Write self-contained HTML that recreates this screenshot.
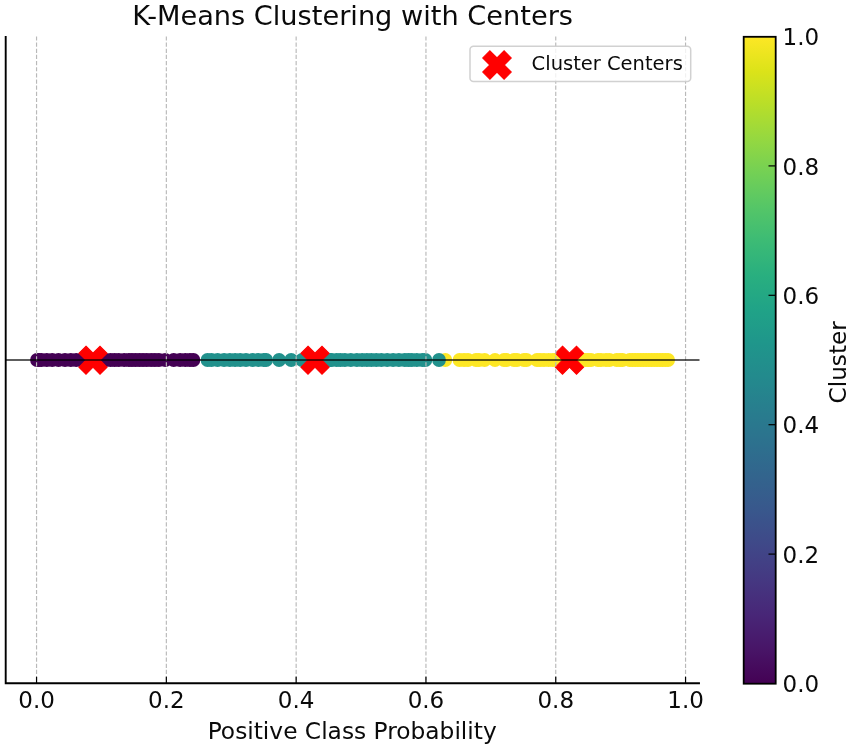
<!DOCTYPE html>
<html><head><meta charset="utf-8"><title>K-Means Clustering with Centers</title>
<style>
html,body{margin:0;padding:0;background:#fff;}
svg{display:block;}
text{font-family:"DejaVu Sans","Liberation Sans",sans-serif;fill:#0a0a0a;}
</style></head><body>
<svg width="851" height="749" viewBox="0 0 851 749">
<defs><linearGradient id="vir" x1="0" y1="1" x2="0" y2="0">
<stop offset="0.0000" stop-color="#440154"/>
<stop offset="0.0526" stop-color="#481567"/>
<stop offset="0.1053" stop-color="#482677"/>
<stop offset="0.1579" stop-color="#453781"/>
<stop offset="0.2105" stop-color="#404788"/>
<stop offset="0.2632" stop-color="#39568c"/>
<stop offset="0.3158" stop-color="#33638d"/>
<stop offset="0.3684" stop-color="#2d708e"/>
<stop offset="0.4211" stop-color="#287d8e"/>
<stop offset="0.4737" stop-color="#238a8d"/>
<stop offset="0.5263" stop-color="#1f968b"/>
<stop offset="0.5789" stop-color="#20a387"/>
<stop offset="0.6316" stop-color="#29af7f"/>
<stop offset="0.6842" stop-color="#3cbb75"/>
<stop offset="0.7368" stop-color="#55c667"/>
<stop offset="0.7895" stop-color="#73d055"/>
<stop offset="0.8421" stop-color="#95d840"/>
<stop offset="0.8947" stop-color="#b8de29"/>
<stop offset="0.9474" stop-color="#dce319"/>
<stop offset="1.0000" stop-color="#fde725"/>
</linearGradient></defs>
<rect width="851" height="749" fill="#ffffff"/>
<g fill="#440154"><circle cx="37.0" cy="360.0" r="6.9"/><circle cx="39.0" cy="360.0" r="6.9"/><circle cx="41.5" cy="360.0" r="6.9"/><circle cx="46.8" cy="360.0" r="6.9"/><circle cx="52.2" cy="360.0" r="6.9"/><circle cx="58.5" cy="360.0" r="6.9"/><circle cx="65.0" cy="360.0" r="6.9"/><circle cx="70.8" cy="360.0" r="6.9"/><circle cx="76.2" cy="360.0" r="6.9"/><circle cx="81.5" cy="360.0" r="6.9"/><circle cx="83.9" cy="360.0" r="6.9"/><circle cx="86.3" cy="360.0" r="6.9"/><circle cx="88.7" cy="360.0" r="6.9"/><circle cx="91.1" cy="360.0" r="6.9"/><circle cx="93.5" cy="360.0" r="6.9"/><circle cx="95.9" cy="360.0" r="6.9"/><circle cx="98.3" cy="360.0" r="6.9"/><circle cx="100.7" cy="360.0" r="6.9"/><circle cx="103.1" cy="360.0" r="6.9"/><circle cx="105.5" cy="360.0" r="6.9"/><circle cx="110.5" cy="360.0" r="6.9"/><circle cx="114.6" cy="360.0" r="6.9"/><circle cx="118.8" cy="360.0" r="6.9"/><circle cx="124.2" cy="360.0" r="6.9"/><circle cx="128.8" cy="360.0" r="6.9"/><circle cx="132.0" cy="360.0" r="6.9"/><circle cx="135.6" cy="360.0" r="6.9"/><circle cx="139.4" cy="360.0" r="6.9"/><circle cx="143.0" cy="360.0" r="6.9"/><circle cx="146.8" cy="360.0" r="6.9"/><circle cx="151.1" cy="360.0" r="6.9"/><circle cx="154.9" cy="360.0" r="6.9"/><circle cx="158.9" cy="360.0" r="6.9"/><circle cx="165.3" cy="360.0" r="6.9"/><circle cx="173.7" cy="360.0" r="6.9"/><circle cx="180.1" cy="360.0" r="6.9"/><circle cx="185.3" cy="360.0" r="6.9"/><circle cx="189.9" cy="360.0" r="6.9"/><circle cx="193.4" cy="360.0" r="6.9"/></g>
<g fill="#fde725"><circle cx="445.3" cy="360.0" r="6.9"/><circle cx="459.5" cy="360.0" r="6.9"/><circle cx="464.0" cy="360.0" r="6.9"/><circle cx="468.0" cy="360.0" r="6.9"/><circle cx="476.0" cy="360.0" r="6.9"/><circle cx="479.0" cy="360.0" r="6.9"/><circle cx="484.6" cy="360.0" r="6.9"/><circle cx="495.0" cy="360.0" r="6.9"/><circle cx="504.0" cy="360.0" r="6.9"/><circle cx="506.5" cy="360.0" r="6.9"/><circle cx="514.0" cy="360.0" r="6.9"/><circle cx="517.0" cy="360.0" r="6.9"/><circle cx="524.0" cy="360.0" r="6.9"/><circle cx="526.5" cy="360.0" r="6.9"/><circle cx="537.0" cy="360.0" r="6.9"/><circle cx="540.0" cy="360.0" r="6.9"/><circle cx="544.0" cy="360.0" r="6.9"/><circle cx="548.6" cy="360.0" r="6.9"/><circle cx="553.0" cy="360.0" r="6.9"/><circle cx="557.0" cy="360.0" r="6.9"/><circle cx="561.0" cy="360.0" r="6.9"/><circle cx="565.0" cy="360.0" r="6.9"/><circle cx="569.0" cy="360.0" r="6.9"/><circle cx="573.0" cy="360.0" r="6.9"/><circle cx="577.0" cy="360.0" r="6.9"/><circle cx="581.0" cy="360.0" r="6.9"/><circle cx="585.0" cy="360.0" r="6.9"/><circle cx="588.0" cy="360.0" r="6.9"/><circle cx="591.0" cy="360.0" r="6.9"/><circle cx="598.0" cy="360.0" r="6.9"/><circle cx="601.0" cy="360.0" r="6.9"/><circle cx="606.0" cy="360.0" r="6.9"/><circle cx="609.5" cy="360.0" r="6.9"/><circle cx="616.7" cy="360.0" r="6.9"/><circle cx="620.0" cy="360.0" r="6.9"/><circle cx="622.5" cy="360.0" r="6.9"/><circle cx="629.7" cy="360.0" r="6.9"/><circle cx="632.4" cy="360.0" r="6.9"/><circle cx="635.2" cy="360.0" r="6.9"/><circle cx="637.9" cy="360.0" r="6.9"/><circle cx="640.7" cy="360.0" r="6.9"/><circle cx="643.4" cy="360.0" r="6.9"/><circle cx="646.2" cy="360.0" r="6.9"/><circle cx="648.9" cy="360.0" r="6.9"/><circle cx="651.6" cy="360.0" r="6.9"/><circle cx="654.4" cy="360.0" r="6.9"/><circle cx="657.1" cy="360.0" r="6.9"/><circle cx="659.9" cy="360.0" r="6.9"/><circle cx="662.6" cy="360.0" r="6.9"/><circle cx="665.4" cy="360.0" r="6.9"/><circle cx="668.1" cy="360.0" r="6.9"/></g>
<g fill="#21918c"><circle cx="207.5" cy="360.0" r="6.9"/><circle cx="211.5" cy="360.0" r="6.9"/><circle cx="217.6" cy="360.0" r="6.9"/><circle cx="224.1" cy="360.0" r="6.9"/><circle cx="229.9" cy="360.0" r="6.9"/><circle cx="235.1" cy="360.0" r="6.9"/><circle cx="240.2" cy="360.0" r="6.9"/><circle cx="246.0" cy="360.0" r="6.9"/><circle cx="252.5" cy="360.0" r="6.9"/><circle cx="258.3" cy="360.0" r="6.9"/><circle cx="263.8" cy="360.0" r="6.9"/><circle cx="266.1" cy="360.0" r="6.9"/><circle cx="279.1" cy="360.0" r="6.9"/><circle cx="291.2" cy="360.0" r="6.9"/><circle cx="302.0" cy="360.0" r="6.9"/><circle cx="307.0" cy="360.0" r="6.9"/><circle cx="312.0" cy="360.0" r="6.9"/><circle cx="317.0" cy="360.0" r="6.9"/><circle cx="322.0" cy="360.0" r="6.9"/><circle cx="326.0" cy="360.0" r="6.9"/><circle cx="330.4" cy="360.0" r="6.9"/><circle cx="331.1" cy="360.0" r="6.9"/><circle cx="336.5" cy="360.0" r="6.9"/><circle cx="340.4" cy="360.0" r="6.9"/><circle cx="344.9" cy="360.0" r="6.9"/><circle cx="350.8" cy="360.0" r="6.9"/><circle cx="356.9" cy="360.0" r="6.9"/><circle cx="362.1" cy="360.0" r="6.9"/><circle cx="366.9" cy="360.0" r="6.9"/><circle cx="371.4" cy="360.0" r="6.9"/><circle cx="376.3" cy="360.0" r="6.9"/><circle cx="381.4" cy="360.0" r="6.9"/><circle cx="387.2" cy="360.0" r="6.9"/><circle cx="393.1" cy="360.0" r="6.9"/><circle cx="398.9" cy="360.0" r="6.9"/><circle cx="404.7" cy="360.0" r="6.9"/><circle cx="408.5" cy="360.0" r="6.9"/><circle cx="411.9" cy="360.0" r="6.9"/><circle cx="416.8" cy="360.0" r="6.9"/><circle cx="422.3" cy="360.0" r="6.9"/><circle cx="425.4" cy="360.0" r="6.9"/><circle cx="439.0" cy="360.0" r="6.9"/></g>
<polygon points="86.00,346.20 93.00,353.20 100.00,346.20 107.00,353.20 100.00,360.20 107.00,367.20 100.00,374.20 93.00,367.20 86.00,374.20 79.00,367.20 86.00,360.20 79.00,353.20" fill="#ff0000" stroke="#ff0000" stroke-width="1.15" stroke-linejoin="miter"/>
<polygon points="308.00,346.20 315.00,353.20 322.00,346.20 329.00,353.20 322.00,360.20 329.00,367.20 322.00,374.20 315.00,367.20 308.00,374.20 301.00,367.20 308.00,360.20 301.00,353.20" fill="#ff0000" stroke="#ff0000" stroke-width="1.15" stroke-linejoin="miter"/>
<polygon points="562.50,346.20 569.50,353.20 576.50,346.20 583.50,353.20 576.50,360.20 583.50,367.20 576.50,374.20 569.50,367.20 562.50,374.20 555.50,367.20 562.50,360.20 555.50,353.20" fill="#ff0000" stroke="#ff0000" stroke-width="1.15" stroke-linejoin="miter"/>
<g stroke="#b9b9b9" stroke-width="1.15" stroke-dasharray="4.2 1.95" fill="none">
<line x1="36.55" y1="36.4" x2="36.55" y2="683.3"/>
<line x1="166.35" y1="36.4" x2="166.35" y2="683.3"/>
<line x1="296.15" y1="36.4" x2="296.15" y2="683.3"/>
<line x1="425.95" y1="36.4" x2="425.95" y2="683.3"/>
<line x1="555.75" y1="36.4" x2="555.75" y2="683.3"/>
<line x1="685.55" y1="36.4" x2="685.55" y2="683.3"/>
</g>
<line x1="5.7" y1="360.0" x2="699.5" y2="360.0" stroke="#000" stroke-opacity="0.85" stroke-width="1.7"/>
<g stroke="#000" stroke-width="1.2">
<line x1="36.55" y1="676.8" x2="36.55" y2="683.3"/>
<line x1="166.35" y1="676.8" x2="166.35" y2="683.3"/>
<line x1="296.15" y1="676.8" x2="296.15" y2="683.3"/>
<line x1="425.95" y1="676.8" x2="425.95" y2="683.3"/>
<line x1="555.75" y1="676.8" x2="555.75" y2="683.3"/>
<line x1="685.55" y1="676.8" x2="685.55" y2="683.3"/>
</g>
<path d="M5.7 36.9 V683.3 H699.0" fill="none" stroke="#000" stroke-width="1.9" stroke-linecap="square"/>
<g font-size="23" text-anchor="middle">
<text x="36.55" y="708.3">0.0</text>
<text x="166.35" y="708.3">0.2</text>
<text x="296.15" y="708.3">0.4</text>
<text x="425.95" y="708.3">0.6</text>
<text x="555.75" y="708.3">0.8</text>
<text x="685.55" y="708.3">1.0</text>
</g>
<text x="352.2" y="738.7" font-size="23.3" text-anchor="middle">Positive Class Probability</text>
<text x="352.6" y="24.8" font-size="27.2" text-anchor="middle">K-Means Clustering with Centers</text>
<rect x="470" y="46.3" width="220.7" height="35.2" rx="3.5" fill="#fff" fill-opacity="0.8" stroke="#cccccc" stroke-opacity="0.9" stroke-width="1.5"/>
<polygon points="489.90,50.80 497.00,57.90 504.10,50.80 511.20,57.90 504.10,65.00 511.20,72.10 504.10,79.20 497.00,72.10 489.90,79.20 482.80,72.10 489.90,65.00 482.80,57.90" fill="#ff0000" stroke="#ff0000" stroke-width="1.15" stroke-linejoin="miter"/>
<text x="531.6" y="70.3" font-size="19.5">Cluster Centers</text>
<rect x="743.7" y="36.8" width="32.0" height="646.9" fill="url(#vir)" stroke="#000" stroke-width="1.8"/>
<g stroke="#000" stroke-width="1.2">
<line x1="768.5" y1="554.10" x2="776" y2="554.10"/>
<line x1="768.5" y1="424.70" x2="776" y2="424.70"/>
<line x1="768.5" y1="295.30" x2="776" y2="295.30"/>
<line x1="768.5" y1="165.90" x2="776" y2="165.90"/>
</g>
<g font-size="23">
<text x="782.5" y="692.10">0.0</text>
<text x="782.5" y="562.70">0.2</text>
<text x="782.5" y="433.30">0.4</text>
<text x="782.5" y="303.90">0.6</text>
<text x="782.5" y="174.50">0.8</text>
<text x="782.5" y="45.10">1.0</text>
</g>
<text transform="translate(846.2 362.3) rotate(-90)" font-size="23.2" text-anchor="middle">Cluster</text>
</svg></body></html>
